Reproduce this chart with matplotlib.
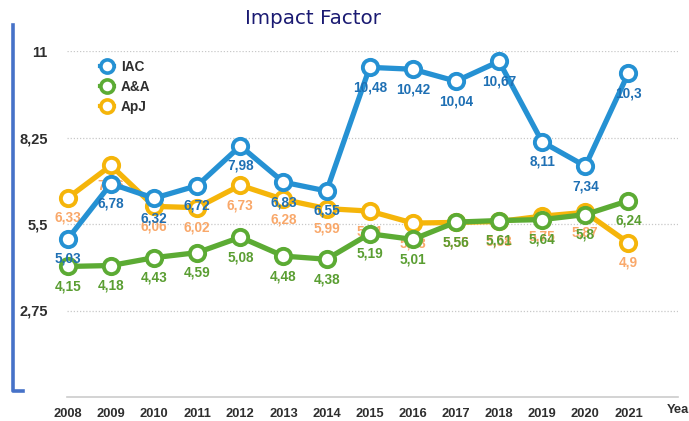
import numpy as np
import matplotlib
matplotlib.use("Agg")
import matplotlib.pyplot as plt
from matplotlib.lines import Line2D

years = [2008, 2009, 2010, 2011, 2012, 2013, 2014, 2015, 2016, 2017, 2018, 2019, 2020, 2021]
iac = [5.03, 6.78, 6.32, 6.72, 7.98, 6.83, 6.55, 10.48, 10.42, 10.04, 10.67, 8.11, 7.34, 10.3]
aa = [4.15, 4.18, 4.43, 4.59, 5.08, 4.48, 4.38, 5.19, 5.01, 5.56, 5.61, 5.64, 5.8, 6.24]
apj = [6.33, 7.36, 6.06, 6.02, 6.73, 6.28, 5.99, 5.91, 5.53, 5.55, 5.58, 5.75, 5.87, 4.9]
yticks = [2.75, 5.5, 8.25, 11]

# colour of line, colour of value labels
series = [
    ("ApJ", apj, "#f5b50a", "#f9a86a"),
    ("A&A", aa, "#5cab34", "#5a9e32"),
    ("IAC", iac, "#2591d3", "#1f70b4"),
]

W, H = 689, 421
fig = plt.figure(figsize=(W / 100, H / 100), dpi=100)
ax = fig.add_axes([67 / W, (H - 397) / H, (678 - 67) / W, (397 - 51) / H])

lab_font = "Liberation Sans"
z = 3
for name, vals, col, lcol in series:
    ax.plot(years, vals, color=col, lw=3.8, marker="o", ms=11, mfc="white",
            mec=col, mew=2.8, clip_on=False, zorder=z, solid_capstyle="round")
    for x, v in zip(years, vals):
        ax.annotate(f"{v:g}".replace(".", ","), (x, v), xytext=(0, -20),
                    textcoords="offset pixels", ha="center", va="center",
                    color=lcol, fontsize=9.8, fontweight="bold",
                    family=lab_font, zorder=z + 0.5, annotation_clip=False)
    z += 1

ax.set_xlim(2008 - 0.02, 2022.15)
ax.set_ylim(0, 11)
ax.set_yticks(yticks)
ax.set_yticklabels([f"{t:g}".replace(".", ",") for t in yticks])
ax.set_xticks(years)
ax.set_xticklabels([str(y) for y in years])
ax.grid(axis="y", color="#c8c8c8", ls=(0, (1, 1.5)), lw=0.9)
ax.set_axisbelow(True)
for s in ["top", "right", "left"]:
    ax.spines[s].set_visible(False)
ax.spines["bottom"].set_color("#cccccc")
ax.spines["bottom"].set_linewidth(1.2)
ax.tick_params(axis="both", length=0)
ax.tick_params(axis="y", pad=14, labelsize=10.5, labelcolor="#2e2e2e")
ax.tick_params(axis="x", pad=8, labelsize=9.3, labelcolor="#2e2e2e")
for t in ax.get_xticklabels() + ax.get_yticklabels():
    t.set_fontweight("bold")
    t.set_family(lab_font)

fig.text(667 / W, 1 - 410 / H, "Year", ha="left", va="center", fontsize=9.3,
         fontweight="bold", family=lab_font, color="#2e2e2e")

fig.text(313 / W, 1 - 19 / H, "Impact Factor", ha="center", va="center",
         fontsize=14.3, color="#1a1a72", family="DejaVu Sans")

# legend
handles = []
for name, vals, col, lcol in reversed(series):
    handles.append(Line2D([], [], color=col, lw=3, marker="o", ms=9.5, mfc="white",
                          mec=col, mew=2.6))
leg = ax.legend(handles, [s[0] for s in reversed(series)], loc="upper left",
                bbox_to_anchor=(88 / W, 1 - 48 / H), bbox_transform=fig.transFigure,
                frameon=False, handlelength=1.0, handletextpad=0.5, labelspacing=0.42,
                prop={"family": lab_font, "weight": "bold", "size": 9.8})
for t in leg.get_texts():
    t.set_color("#2e2e2e")

# blue bracket on the left
fig.add_artist(Line2D([12.5 / W, 12.5 / W, 23 / W], [1 - 25 / H, 1 - 391 / H, 1 - 391 / H],
                      color="#4672c8", lw=2.6, transform=fig.transFigure))

fig.savefig("out.png", dpi=100)
